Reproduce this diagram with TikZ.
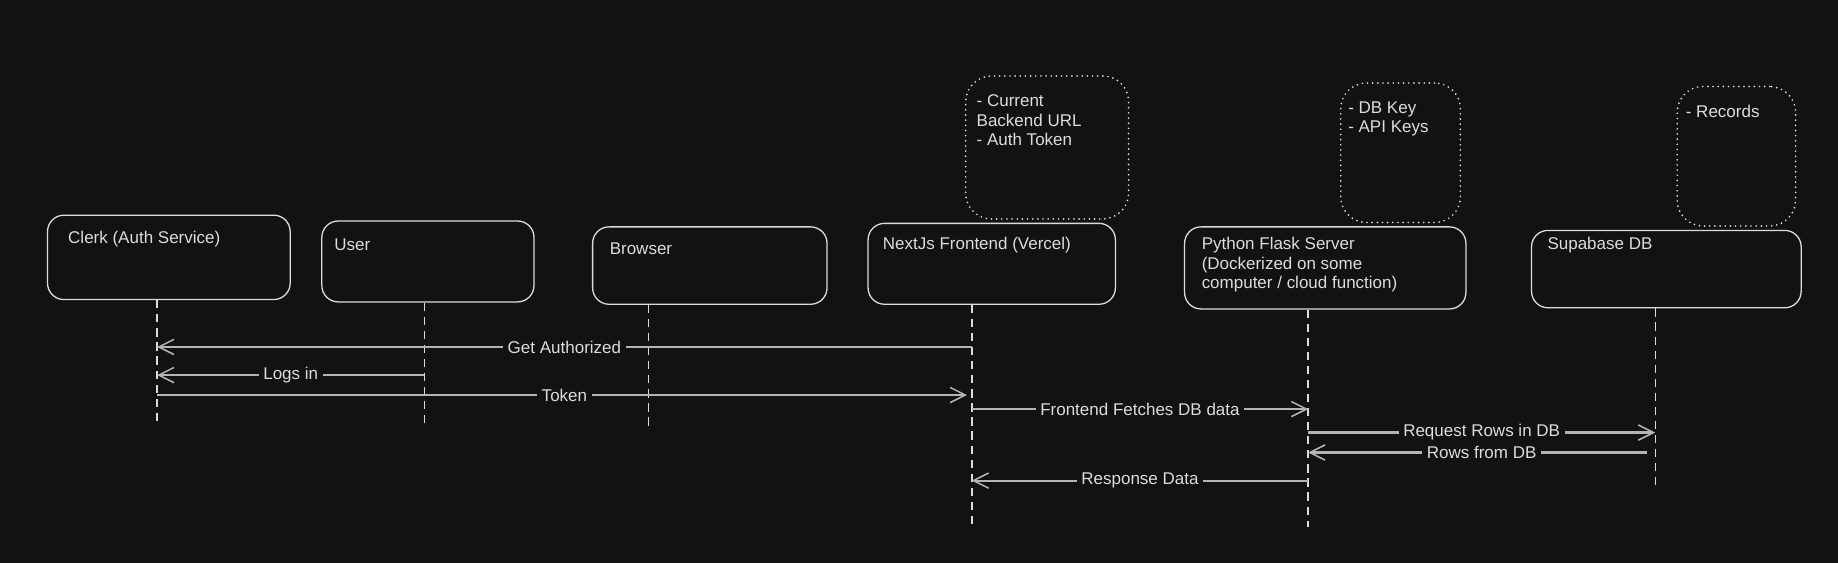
\documentclass[tikz,border=0pt]{standalone}
\usepackage{fontspec}
\setmainfont{Liberation Sans}
\usetikzlibrary{arrows.meta}
\definecolor{bg}{HTML}{121212}
\definecolor{ink}{HTML}{DCDCDC}
\definecolor{wire}{HTML}{B4B4B4}

\begin{document}
\begin{tikzpicture}[x=1pt, y=-1pt,
    every node/.style={font=\fontsize{14.5}{16.5}\selectfont, text=ink},
    actor/.style={draw=ink, line width=1.1pt, rounded corners=14pt, anchor=north west, inner sep=0pt},
    note/.style={draw=ink, line width=1.6pt, line cap=round, dash pattern=on 0pt off 4.4pt, rounded corners=22pt, anchor=north west, inner sep=0pt},
    caption/.style={anchor=base west, align=left, inner sep=0pt},
    life/.style={draw=ink, line width=1pt, dash pattern=on 7pt off 5pt},
    msg/.style={draw=wire, line width=1.8pt, -{Straight Barb[length=13pt,width=13pt,line width=1.3pt]}},
    tag/.style={fill=bg, inner xsep=4pt, inner ysep=1pt, midway}]
    \fill[bg] (0,0) rectangle (1568,480);
    \useasboundingbox (0,0) rectangle (1568,480);

    \node[actor, minimum width=207pt, minimum height=72pt] (clerk) at (40,183) {};
    \node[actor, minimum width=181pt, minimum height=69pt] (user) at (274,188) {};
    \node[actor, minimum width=200pt, minimum height=66pt] (browser) at (505,193) {};
    \node[actor, minimum width=211pt, minimum height=69pt] (next) at (740,190) {};
    \node[actor, minimum width=240pt, minimum height=70pt] (flask) at (1010,193) {};
    \node[actor, minimum width=230pt, minimum height=66pt] (supa) at (1306,196) {};

    % multi-line captions sit on their last baseline
    \node[caption] (clerktxt) at (58,208) {Clerk (Auth Service)};
    \node[caption] (usertxt) at (285,214) {User};
    \node[caption] (browsertxt) at (520,217) {Browser};
    \node[caption] (nexttxt) at (753,213) {NextJs Frontend (Vercel)};
    \node[caption] (flasktxt) at (1025,246) {Python Flask Server\\(Dockerized on some\\computer / cloud function)};
    \node[caption] (supatxt) at (1320,213) {Supabase DB};

    \node[note, minimum width=139pt, minimum height=122pt] (nextnote) at (823,64) {};
    \node[note, minimum width=102pt, minimum height=119pt] (flasknote) at (1143,70) {};
    \node[note, minimum width=101pt, minimum height=119pt] (supanote) at (1430,73) {};
    \node[caption] (nextnotetxt) at (833,124) {- Current\\Backend URL\\- Auth Token};
    \node[caption] (flasknotetxt) at (1150,113) {- DB Key\\- API Keys};
    \node[caption] (supanotetxt) at (1438,100) {- Records};

    \coordinate (clerkB) at (134,363);
    \coordinate (userB) at (362,364);
    \coordinate (browserB) at (553,367);
    \coordinate (nextB) at (829,450);
    \coordinate (flaskB) at (1116,450);
    \coordinate (supaB) at (1412,418);
    \draw[life] (clerk.south -| clerkB) -- (clerkB);
    \draw[life] (user.south -| userB) -- (userB);
    \draw[life] (browser.south -| browserB) -- (browserB);
    \draw[life, line width=1.4pt] (next.south -| nextB) -- (nextB);
    \draw[life, line width=1.4pt] (flask.south -| flaskB) -- (flaskB);
    \draw[life] (supa.south -| supaB) -- (supaB);

    \coordinate (r1) at (0,296);
    \coordinate (r2) at (0,320);
    \coordinate (r3) at (0,337);
    \coordinate (r4) at (0,349);
    \coordinate (r5) at (0,369);
    \coordinate (r6) at (0,386);
    \coordinate (r7) at (0,410);
    \path
    (nextB |- r1) edge[msg] node[tag] {Get Authorized} (clerkB |- r1)
    (userB |- r2) edge[msg] node[tag] {Logs in} (clerkB |- r2)
    (clerkB |- r3) edge[msg, shorten >=4pt] node[tag] {Token} (nextB |- r3)
    (nextB |- r4) edge[msg] node[tag] {Frontend Fetches DB data} (flaskB |- r4)
    (flaskB |- r5) edge[msg] node[tag] {Request Rows in DB} (supaB |- r5)
    (supaB |- r6) edge[msg, shorten <=7pt] node[tag] {Rows from DB} (flaskB |- r6)
    (flaskB |- r7) edge[msg] node[tag] {Response Data} (nextB |- r7);
\end{tikzpicture}
\end{document}
